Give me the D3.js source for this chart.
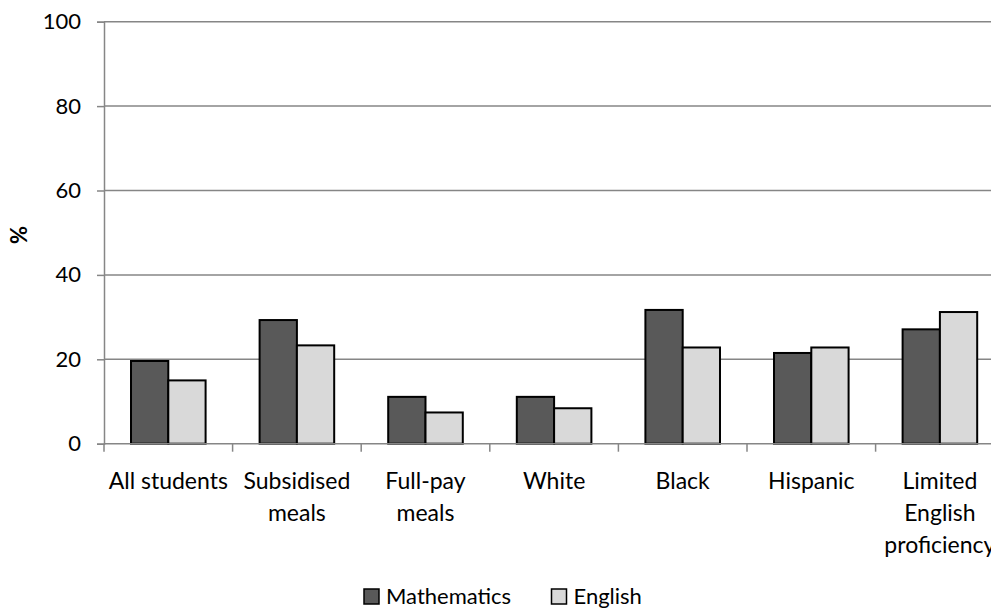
<!DOCTYPE html>
<html>
<head>
<meta charset="utf-8">
<script src="https://cdn.jsdelivr.net/npm/d3@7"></script>
<style>
  html, body { margin: 0; padding: 0; background: #fff; }
  svg { display: block; }
  text { font-family: Lato, "Open Sans", sans-serif; fill: #000; }
</style>
</head>
<body>
<svg id="chart" width="991" height="609"></svg>
<script>
// Category names; line breaks in the axis labels are marked with "|"
const categories = ["All students", "Subsidised|meals", "Full-pay|meals", "White", "Black", "Hispanic", "Limited|English|proficiency"];
const seriesNames = ["Mathematics", "English"];
const mathematics = [19.6, 29.3, 11.1, 11.1, 31.7, 21.5, 27.1];
const english = [15.0, 23.3, 7.4, 8.4, 22.8, 22.8, 31.2];
const yTicks = [0, 20, 40, 60, 80, 100];
const fills = ["#595959", "#d9d9d9"];

const svg = d3.select("#chart");
const plotLeft = 104, plotTop = 21.7, plotBottom = 443.7, step = 128.6;
const plotRight = plotLeft + step * categories.length;

const x = d3.scaleBand().domain(categories).range([plotLeft, plotRight]).paddingInner(0.42).paddingOuter(0.21);
const xs = d3.scaleBand().domain(seriesNames).range([0, x.bandwidth()]);
const y = d3.scaleLinear().domain([0, 100]).range([plotBottom, plotTop]);

const grid = "#868686";

// horizontal gridlines
svg.append("g").selectAll("line").data(yTicks.filter(d => d > 0)).join("line")
  .attr("x1", plotLeft).attr("x2", 991)
  .attr("y1", d => y(d)).attr("y2", d => y(d))
  .attr("stroke", grid).attr("stroke-width", 1.5);

// y axis
const yAxis = svg.append("g").attr("transform", `translate(${plotLeft},0)`)
  .call(d3.axisLeft(y).tickValues(yTicks).tickSize(7).tickPadding(16));
yAxis.select(".domain").attr("stroke", grid).attr("stroke-width", 1.5);
yAxis.selectAll(".tick line").attr("stroke", grid).attr("stroke-width", 1.5);
yAxis.selectAll(".tick text").attr("font-size", 22).attr("font-family", "Lato, sans-serif").attr("fill", "#000");

// y axis title
svg.append("text")
  .attr("transform", `translate(27,235) rotate(-90)`)
  .attr("text-anchor", "middle")
  .attr("font-size", 22).attr("font-weight", "bold")
  .text("%");

// bars
const rows = categories.map((c, i) => ({ cat: c, vals: [mathematics[i], english[i]] }));
const groups = svg.append("g").selectAll("g").data(rows).join("g")
  .attr("transform", d => `translate(${x(d.cat)},0)`);
groups.selectAll("rect").data(d => d.vals.map((v, j) => ({ key: seriesNames[j], v, j }))).join("rect")
  .attr("x", d => xs(d.key))
  .attr("width", xs.bandwidth())
  .attr("y", d => y(d.v))
  .attr("height", d => y(0) - y(d.v))
  .attr("fill", d => fills[d.j])
  .attr("stroke", "#000").attr("stroke-width", 2);

// x axis line and category boundary ticks
svg.append("line").attr("x1", plotLeft).attr("x2", 991).attr("y1", plotBottom).attr("y2", plotBottom)
  .attr("stroke", grid).attr("stroke-width", 1.5);
const bounds = d3.range(categories.length + 1).map(i => plotLeft + i * x.step());
svg.append("g").selectAll("line").data(bounds).join("line")
  .attr("x1", d => d).attr("x2", d => d)
  .attr("y1", plotBottom).attr("y2", plotBottom + 8)
  .attr("stroke", grid).attr("stroke-width", 1.5);

// category labels
const labels = svg.append("g").selectAll("text").data(categories).join("text")
  .attr("text-anchor", "middle")
  .attr("font-size", 23)
  .attr("x", d => x(d) + x.bandwidth() / 2)
  .attr("y", 489);
labels.selectAll("tspan").data(d => d.split("|")).join("tspan")
  .attr("x", function () { return d3.select(this.parentNode).attr("x"); })
  .attr("dy", (d, i) => i === 0 ? 0 : 32)
  .text(d => d);

// legend
const legendItems = [{ name: "Mathematics", x: 364 }, { name: "English", x: 551.5 }];
const lg = svg.append("g").selectAll("g").data(legendItems).join("g")
  .attr("transform", d => `translate(${d.x},589)`);
lg.append("rect").attr("width", 15).attr("height", 15)
  .attr("fill", (d, i) => fills[i]).attr("stroke", "#000").attr("stroke-width", 1.5);
lg.append("text").attr("x", 22).attr("y", 14.5).attr("font-size", 22).text(d => d.name);
</script>
</body>
</html>
